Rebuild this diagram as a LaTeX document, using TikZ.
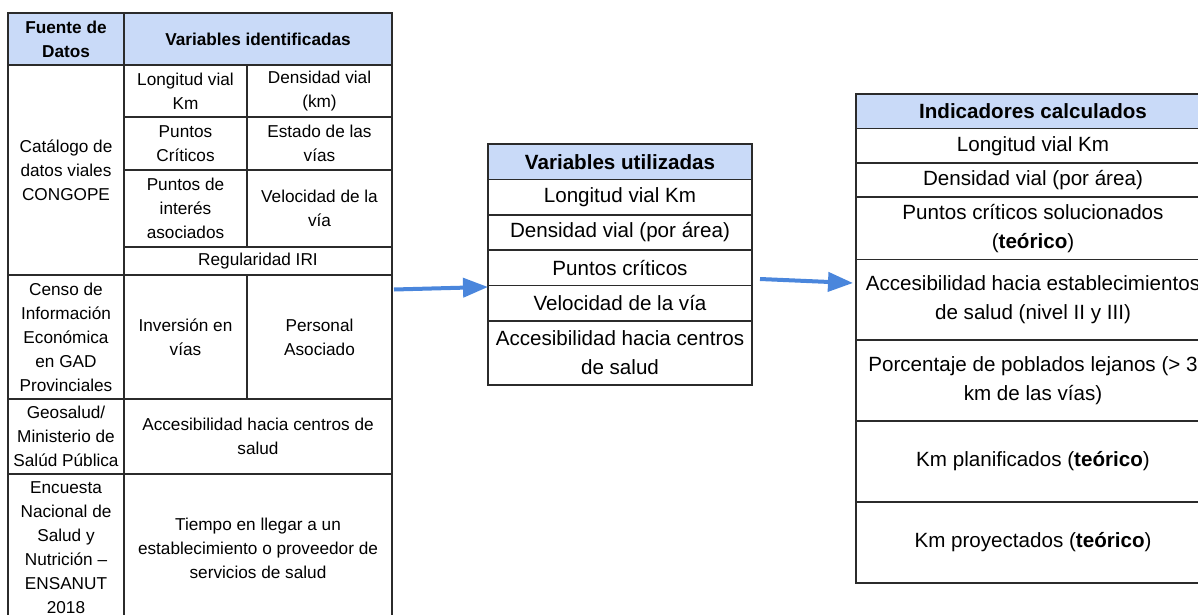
\documentclass[tikz,border=0pt]{standalone}
\usepackage{fontspec}
\setmainfont{Liberation Sans}
\usetikzlibrary{arrows.meta}
\definecolor{hdr}{HTML}{C9DAF8}
\definecolor{arrblue}{HTML}{4A86DC}
\definecolor{bord}{HTML}{2B2B2B}
\newcommand\tcell[7][]{\node[cell,#1,minimum width={(#5-#3)*1pt},minimum height={(#6-#4)*1pt}] (#2) at ({(#3+#5)/2},{(#4+#6)/2}) {#7};}
\begin{document}
\begin{tikzpicture}[x=1pt,y=-1pt,
  cell/.style={draw=bord,line width=1.3pt,inner sep=0pt,outer sep=0pt,align=center,text=black},
  sm/.style={font=\fontsize{17.2}{24}\selectfont},
  bg/.style={font=\fontsize{20.6}{29}\selectfont},
  hd/.style={fill=hdr},
  arr/.style={draw=arrblue,line width=4pt,-{Triangle[length=25pt,width=19pt]}}]
\useasboundingbox (0,0) rectangle (1198,615);
\clip (0,0) rectangle (1198,615);
% left table
\tcell[sm,hd]{lh1}{8}{13}{124}{65}{\bfseries Fuente de\\\bfseries Datos}
\tcell[sm,hd]{lh2}{124}{13}{392}{65}{\bfseries Variables identificadas}
\tcell[sm]{l1}{8}{65}{124}{275}{Catálogo de\\datos viales\\CONGOPE}
\tcell[sm]{l2}{8}{275}{124}{399}{Censo de\\Información\\Económica\\en GAD\\Provinciales}
\tcell[sm]{l3}{8}{399}{124}{474}{Geosalud/\\Ministerio de\\Salúd Pública}
\tcell[sm]{l4}{8}{474}{124}{622}{Encuesta\\Nacional de\\Salud y\\Nutrición –\\ENSANUT\\2018}
\tcell[sm]{a1}{124}{65}{247}{117}{Longitud vial\\Km}
\tcell[sm]{b1}{247}{65}{392}{117}{Densidad vial\\(km)}
\tcell[sm]{a2}{124}{117}{247}{170}{Puntos\\Críticos}
\tcell[sm]{b2}{247}{117}{392}{170}{Estado de las\\vías}
\tcell[sm]{a3}{124}{170}{247}{247}{Puntos de\\interés\\asociados}
\tcell[sm]{b3}{247}{170}{392}{247}{Velocidad de la\\vía}
\tcell[sm]{c4}{124}{247}{392}{275}{Regularidad IRI}
\tcell[sm]{a5}{124}{275}{247}{399}{Inversión en\\vías}
\tcell[sm]{b5}{247}{275}{392}{399}{Personal\\Asociado}
\tcell[sm]{c6}{124}{399}{392}{474}{Accesibilidad hacia centros de\\salud}
\tcell[sm]{c7}{124}{474}{392}{622}{Tiempo en llegar a un\\establecimiento o proveedor de\\servicios de salud}
% middle table
\tcell[bg,hd]{mh}{488}{144}{752}{179.5}{\bfseries Variables utilizadas}
\tcell[bg]{m1}{488}{179.5}{752}{215}{Longitud vial Km}
\tcell[bg]{m2}{488}{215}{752}{250}{Densidad vial (por área)}
\tcell[bg]{m3}{488}{250}{752}{285.5}{Puntos críticos}
\tcell[bg]{m4}{488}{285.5}{752}{321}{Velocidad de la vía}
\tcell[bg]{m5}{488}{321}{752}{385}{Accesibilidad hacia centros\\de salud}
% right table
\tcell[bg,hd]{rh}{856}{94}{1210}{128.5}{\bfseries Indicadores calculados}
\tcell[bg]{r1}{856}{128.5}{1210}{163}{Longitud vial Km}
\tcell[bg]{r2}{856}{163}{1210}{197}{Densidad vial (por área)}
\tcell[bg]{r3}{856}{197}{1210}{259.5}{Puntos críticos solucionados\\(\textbf{teórico})}
\tcell[bg]{r4}{856}{259.5}{1210}{340}{Accesibilidad hacia establecimientos\\de salud (nivel II y III)}
\tcell[bg]{r5}{856}{340}{1210}{421}{Porcentaje de poblados lejanos (> 3\\km de las vías)}
\tcell[bg]{r6}{856}{421}{1210}{502}{Km planificados (\textbf{teórico})}
\tcell[bg]{r7}{856}{502}{1210}{583}{Km proyectados (\textbf{teórico})}
% arrows
\coordinate (s1) at (394,289.5);
\coordinate (e1) at (488,287);
\coordinate (s2) at (760,279);
\coordinate (e2) at (853,283);
\draw[arr] (s1) -- (e1);
\draw[arr] (s2) -- (e2);
\end{tikzpicture}
\end{document}
